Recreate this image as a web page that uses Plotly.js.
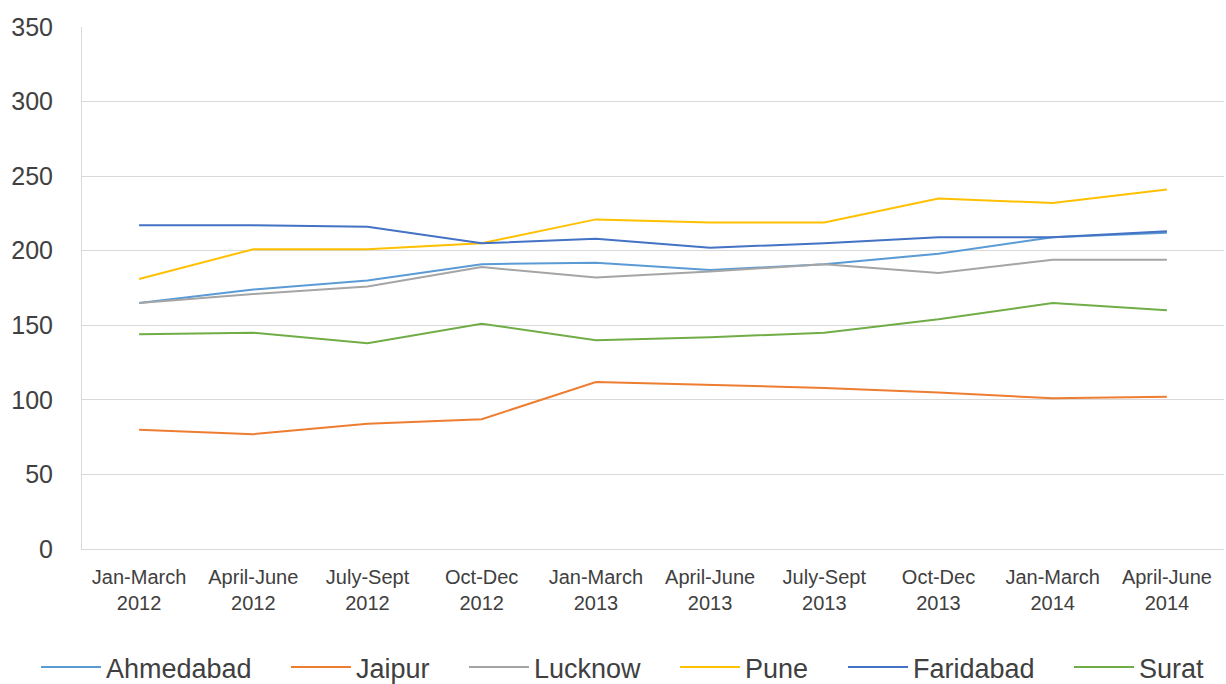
<!DOCTYPE html>
<html>
<head>
<meta charset="utf-8">
<script src="https://cdn.plot.ly/plotly-3.0.1.min.js"></script>
<style>html,body{margin:0;padding:0;background:#fff;}#chart{width:1226px;height:684px;}</style>
</head>
<body>
<div id="chart"></div>
<script>
const categories = ["Jan-March<br>2012","April-June<br>2012","July-Sept<br>2012","Oct-Dec<br>2012","Jan-March<br>2013","April-June<br>2013","July-Sept<br>2013","Oct-Dec<br>2013","Jan-March<br>2014","April-June<br>2014"];
const ahmedabad = [165, 174, 180, 191, 192, 187, 191, 198, 209, 212];
const jaipur    = [80, 77, 84, 87, 112, 110, 108, 105, 101, 102];
const lucknow   = [165, 171, 176, 189, 182, 186, 191, 185, 194, 194];
const pune      = [181, 201, 201, 205, 221, 219, 219, 235, 232, 241];
const faridabad = [217, 217, 216, 205, 208, 202, 205, 209, 209, 213];
const surat     = [144, 145, 138, 151, 140, 142, 145, 154, 165, 160];

const seriesNames = ["Ahmedabad","Jaipur","Lucknow","Pune","Faridabad","Surat"];
const seriesData = [ahmedabad, jaipur, lucknow, pune, faridabad, surat];
const colors = ["#5B9BD5","#ED7D31","#A5A5A5","#FFC000","#4472C4","#70AD47"];
// legend placement pixels (layout only)
const legendPx = [36, 286, 464, 675, 843, 1069];

const legendKeys = ['legend','legend2','legend3','legend4','legend5','legend6'];
const traces = seriesNames.map((n, i) => ({
  type: 'scatter', mode: 'lines', name: n,
  x: categories, y: seriesData[i],
  line: {color: colors[i], width: 2},
  legend: legendKeys[i]
}));

const plotL = 82, plotW = 1142;
const layout = {
  width: 1226, height: 684,
  margin: {l: 82, r: 2, t: 27, b: 135, autoexpand: false},
  paper_bgcolor: '#fff', plot_bgcolor: '#fff',
  font: {family: '"Liberation Sans", Arial, sans-serif', color: '#404040'},
  xaxis: {
    type: 'category', range: [-0.5, 9.5], automargin: false,
    showgrid: false, showline: true, linecolor: '#d9d9d9', linewidth: 1,
    ticks: '', tickfont: {size: 20, color: '#404040'}, tickangle: 0,
    ticklabelstandoff: 10
  },
  yaxis: {
    range: [0, 350], dtick: 50, tick0: 0, automargin: false,
    showgrid: true, gridcolor: '#d9d9d9', gridwidth: 1,
    showline: true, linecolor: '#d9d9d9', linewidth: 1,
    zeroline: false, ticks: '', ticklabelstandoff: 23,
    tickfont: {size: 25, color: '#404040'}
  },
  showlegend: true
};
legendKeys.forEach((k, i) => {
  layout[k] = {
    orientation: 'h', x: (legendPx[i] - plotL) / plotW, xanchor: 'left',
    y: -0.227, yanchor: 'middle', bgcolor: 'rgba(0,0,0,0)',
    font: {size: 27, color: '#404040'}, itemwidth: 60
  };
});

Plotly.newPlot('chart', traces, layout, {displayModeBar: false, staticPlot: true});
</script>
</body>
</html>
